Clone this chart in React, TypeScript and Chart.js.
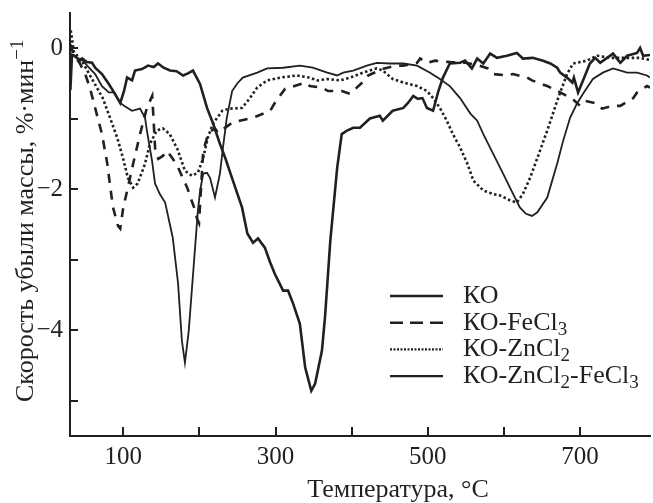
import React, { useEffect, useRef } from 'react';
import { Chart, registerables } from 'chart.js';

Chart.register(...registerables);

const INK = '#231f20';
const FONT = '"Liberation Serif", "Times New Roman", serif';

// ---- data (temperature °C, rate %/min) ----
const koTemp = [30.5, 32.6, 37, 43, 46, 52, 59, 63, 72, 81, 89, 96, 101, 105, 111.5, 115.4, 124.6, 132.5, 140, 145.6, 153, 161.4, 170, 178.5, 185, 191.6, 200.8, 210, 218, 227, 234, 244, 256, 263, 270.5, 277, 286, 293, 299, 310, 316.5, 323, 332, 339, 347, 352, 361, 365, 372, 381, 387, 394, 402, 411, 424, 437, 441, 454, 468, 474, 481, 487, 493, 499, 507, 514, 520, 529, 542.5, 549, 558, 565, 573, 582, 591, 604, 617, 625, 638, 651.5, 661, 670, 674, 683, 690, 692, 697.5, 704, 713, 720, 726.5, 735.6, 743.5, 753, 762, 775, 779, 783, 792];
const koRate = [-0.6, -0.1, -0.12, -0.18, -0.15, -0.2, -0.21, -0.28, -0.37, -0.51, -0.65, -0.78, -0.61, -0.42, -0.46, -0.32, -0.3, -0.25, -0.27, -0.22, -0.28, -0.32, -0.33, -0.39, -0.36, -0.32, -0.51, -0.85, -1.07, -1.36, -1.56, -1.88, -2.26, -2.63, -2.76, -2.7, -2.83, -3.04, -3.2, -3.44, -3.44, -3.62, -3.91, -4.53, -4.86, -4.76, -4.29, -3.82, -2.73, -1.7, -1.22, -1.17, -1.13, -1.13, -1.0, -0.96, -1.03, -0.89, -0.85, -0.78, -0.68, -0.72, -0.71, -0.85, -0.89, -0.61, -0.42, -0.22, -0.21, -0.18, -0.29, -0.15, -0.22, -0.08, -0.14, -0.11, -0.07, -0.15, -0.14, -0.18, -0.22, -0.28, -0.35, -0.42, -0.49, -0.42, -0.63, -0.46, -0.22, -0.14, -0.21, -0.14, -0.08, -0.21, -0.11, -0.07, 0.0, -0.11, -0.1];

const feTemp = [31, 34, 43, 50, 56, 63, 72, 79, 83, 86.5, 93, 96, 100, 106, 113, 122, 131, 138, 139.5, 142, 146, 152, 157.5, 165, 171, 178.5, 184, 189, 193, 197, 199.5, 205, 212, 220.5, 224.5, 243, 253, 270.5, 277, 293, 299, 312.5, 319, 339, 345, 361, 369, 387, 398, 414, 421.6, 440, 457, 467.6, 486, 490, 499, 509.6, 530, 550, 565, 579, 586, 604, 612, 630.5, 637, 657, 665, 683, 690, 700, 707, 722.5, 729, 743.5, 753, 770, 775, 788, 792];
const feRate = [0.05, -0.08, -0.22, -0.37, -0.56, -0.85, -1.22, -1.64, -1.98, -2.26, -2.52, -2.56, -2.26, -1.98, -1.64, -1.22, -0.85, -0.68, -0.96, -1.46, -1.57, -1.53, -1.46, -1.57, -1.67, -1.85, -1.98, -2.14, -2.26, -2.42, -2.48, -1.46, -1.2, -1.14, -1.2, -1.06, -1.03, -0.99, -0.96, -0.89, -0.78, -0.58, -0.56, -0.49, -0.54, -0.56, -0.61, -0.61, -0.65, -0.49, -0.39, -0.3, -0.25, -0.25, -0.21, -0.15, -0.21, -0.18, -0.2, -0.21, -0.24, -0.29, -0.37, -0.39, -0.37, -0.42, -0.46, -0.54, -0.58, -0.68, -0.72, -0.82, -0.75, -0.79, -0.86, -0.82, -0.82, -0.71, -0.63, -0.54, -0.56];

const znTemp = [31, 33, 35, 40, 47, 60, 73, 82.6, 92, 99.6, 106, 113, 119, 128.6, 135, 144, 152, 161, 171, 181, 190, 198, 205, 211, 218, 230, 240, 256, 266.5, 276, 289, 306, 328, 345, 355, 368, 385, 398, 415, 433, 441, 454, 468, 486, 499, 507, 516, 525, 533, 542.5, 552, 560, 573, 586, 595, 608, 617, 625, 634.5, 644, 657, 670, 683, 691, 709, 722.5, 740, 762, 779, 792];
const znRate = [0.25, 0.1, -0.05, -0.12, -0.21, -0.46, -0.71, -0.99, -1.27, -1.56, -1.84, -1.98, -1.92, -1.64, -1.36, -1.17, -1.14, -1.22, -1.43, -1.74, -1.81, -1.77, -1.56, -1.27, -1.07, -0.89, -0.86, -0.85, -0.71, -0.56, -0.46, -0.42, -0.39, -0.42, -0.46, -0.44, -0.46, -0.42, -0.35, -0.29, -0.32, -0.44, -0.49, -0.54, -0.61, -0.71, -0.85, -1.03, -1.22, -1.41, -1.64, -1.88, -2.02, -2.07, -2.09, -2.16, -2.19, -2.07, -1.84, -1.56, -1.17, -0.75, -0.37, -0.22, -0.18, -0.11, -0.14, -0.14, -0.14, -0.17];

const znFeTemp = [30.5, 35, 39, 47, 55, 63, 72, 81, 88, 96, 101, 111.5, 122, 128.6, 131, 137.8, 141.7, 148, 155, 165, 172, 177, 181, 186, 192, 198, 201, 205, 210, 214, 220.5, 227, 231, 236, 243, 250, 257, 276, 289, 310, 332, 349, 368, 381, 389, 402, 420, 433, 450, 468, 486, 503, 516, 529, 542.5, 556, 565, 573, 586, 599, 608, 621, 629, 637, 644, 657, 670, 678, 687, 696, 704, 717, 730, 743.5, 762, 775, 788, 792];
const znFeRate = [-0.15, -0.1, -0.14, -0.18, -0.28, -0.37, -0.54, -0.63, -0.63, -0.78, -0.82, -0.89, -0.86, -0.99, -1.17, -1.6, -1.92, -2.07, -2.19, -2.69, -3.34, -4.15, -4.46, -4.01, -3.16, -2.31, -2.02, -1.78, -1.77, -1.84, -2.12, -1.78, -1.41, -0.99, -0.61, -0.5, -0.42, -0.35, -0.29, -0.28, -0.25, -0.28, -0.35, -0.39, -0.35, -0.32, -0.25, -0.21, -0.22, -0.22, -0.25, -0.35, -0.44, -0.54, -0.71, -0.93, -1.03, -1.22, -1.5, -1.78, -1.98, -2.26, -2.35, -2.38, -2.33, -2.12, -1.64, -1.31, -0.99, -0.79, -0.65, -0.44, -0.35, -0.29, -0.35, -0.35, -0.39, -0.42];

// ---- axes ----
const xMin = 30;
const xMax = 792;
const yMin = -5.5;
const yMax = 0.5;
const xTickValues = [100, 200, 300, 400, 500, 600, 700];
const xTickLabels = [100, 300, 500, 700];
const yTickValues = [0, -1, -2, -3, -4, -5];
const yTickLabels = [0, -2, -4];

const xTitle = 'Температура, °C';
const yTitleSegs = [{ t: 'Скорость убыли массы, %·мин' }, { t: '−1', sup: true }];

const seriesNames = [
  [{ t: 'КО' }],
  [{ t: 'КО-FeCl' }, { t: '3', sub: true }],
  [{ t: 'КО-ZnCl' }, { t: '2', sub: true }],
  [{ t: 'КО-ZnCl' }, { t: '2', sub: true }, { t: '-FeCl' }, { t: '3', sub: true }],
];

type Seg = { t: string; sub?: boolean; sup?: boolean };

function drawRich(ctx: CanvasRenderingContext2D, segs: Seg[], x: number, y: number, size: number, small: number) {
  let cx = x;
  for (const s of segs) {
    const isSmall = s.sub || s.sup;
    ctx.font = `${isSmall ? small : size}px ${FONT}`;
    const dy = s.sub ? 5 : s.sup ? -10 : 0;
    ctx.fillText(s.t, cx, y + dy);
    cx += ctx.measureText(s.t).width;
  }
}

const legendStyles = [
  { width: 2.6, dash: [] as number[] },
  { width: 2.6, dash: [13, 7] },
  { width: 2.2, dash: [2, 1.5] },
  { width: 2.2, dash: [] as number[] },
];

const decorPlugin = {
  id: 'decor',
  afterDraw(chart: any) {
    const { ctx, chartArea } = chart;
    const xs = chart.scales.x;
    const ys = chart.scales.y;
    ctx.save();
    ctx.strokeStyle = INK;
    ctx.fillStyle = INK;
    ctx.lineWidth = 2;
    ctx.setLineDash([]);
    for (const v of xTickValues) {
      const p = Math.round(xs.getPixelForValue(v));
      ctx.beginPath();
      ctx.moveTo(p, chartArea.bottom);
      ctx.lineTo(p, chartArea.bottom - 9);
      ctx.stroke();
    }
    for (const v of yTickValues) {
      const p = Math.round(ys.getPixelForValue(v));
      ctx.beginPath();
      ctx.moveTo(chartArea.left, p);
      ctx.lineTo(chartArea.left + 8, p);
      ctx.stroke();
    }
    // legend
    ctx.textAlign = 'left';
    ctx.textBaseline = 'alphabetic';
    seriesNames.forEach((segs, i) => {
      const base = 303 + i * 26.7;
      const ly = base - 7;
      const st = legendStyles[i];
      ctx.lineWidth = st.width;
      ctx.setLineDash(st.dash);
      ctx.beginPath();
      ctx.moveTo(390, ly);
      ctx.lineTo(443, ly);
      ctx.stroke();
      ctx.setLineDash([]);
      drawRich(ctx, segs as Seg[], 463, base, 26, 19);
    });
    // x title
    ctx.font = `26px ${FONT}`;
    ctx.textAlign = 'center';
    ctx.fillText(xTitle, 398, 497);
    // y title
    ctx.translate(33, 402);
    ctx.rotate(-Math.PI / 2);
    ctx.textAlign = 'left';
    drawRich(ctx, yTitleSegs as Seg[], 0, 0, 26, 19);
    ctx.restore();
  },
};

function pts(xs: number[], ys: number[]) {
  return xs.map((x, i) => ({ x, y: ys[i] }));
}

export default function App() {
  const ref = useRef<HTMLCanvasElement | null>(null);
  useEffect(() => {
    document.body.style.margin = '0';
    const canvas = ref.current!;
    const chart = new Chart(canvas, {
      type: 'line',
      data: {
        datasets: [
          { label: 'КО', data: pts(koTemp, koRate), borderColor: INK, borderWidth: 2.6, pointRadius: 0, tension: 0, fill: false },
          { label: 'КО-FeCl3', data: pts(feTemp, feRate), borderColor: INK, borderWidth: 2.6, borderDash: [9, 8], pointRadius: 0, tension: 0, fill: false },
          { label: 'КО-ZnCl2', data: pts(znTemp, znRate), borderColor: INK, borderWidth: 2.6, borderDash: [2.5, 2.5], pointRadius: 0, tension: 0, fill: false },
          { label: 'КО-ZnCl2-FeCl3', data: pts(znFeTemp, znFeRate), borderColor: INK, borderWidth: 1.8, pointRadius: 0, tension: 0, fill: false },
        ],
      },
      options: {
        responsive: false,
        animation: false,
        devicePixelRatio: 1,
        parsing: false as any,
        layout: { padding: { left: 0, top: 12.7, right: 3, bottom: 0 } },
        plugins: { legend: { display: false }, tooltip: { enabled: false }, title: { display: false } },
        scales: {
          x: {
            type: 'linear',
            min: xMin,
            max: xMax,
            grid: { display: false, drawTicks: false },
            border: { display: true, width: 2, color: INK },
            ticks: {
              color: INK,
              font: { family: FONT, size: 25 },
              padding: 6,
              maxRotation: 0,
              autoSkip: false,
              callback: (v: any) => (xTickLabels.includes(Number(v)) ? String(v) : ''),
            },
            afterBuildTicks: (s: any) => {
              s.ticks = xTickValues.map((v) => ({ value: v }));
            },
            afterFit: (s: any) => {
              s.height = 67;
              s.paddingLeft = 0;
              s.paddingRight = 0;
              s.paddingTop = 0;
              s.paddingBottom = 0;
            },
          },
          y: {
            type: 'linear',
            min: yMin,
            max: yMax,
            grid: { display: false, drawTicks: false },
            border: { display: true, width: 2, color: INK },
            ticks: {
              color: INK,
              font: { family: FONT, size: 25 },
              padding: 7,
              autoSkip: false,
              callback: (v: any) => {
                const n = Number(v);
                if (!yTickLabels.includes(n)) return '';
                return n < 0 ? '−' + Math.abs(n) : String(n);
              },
            },
            afterBuildTicks: (s: any) => {
              s.ticks = yTickValues.map((v) => ({ value: v }));
            },
            afterFit: (s: any) => {
              s.width = 70;
              s.paddingLeft = 0;
              s.paddingRight = 0;
              s.paddingTop = 0;
              s.paddingBottom = 0;
            },
          },
        },
      },
      plugins: [decorPlugin],
    });
    return () => chart.destroy();
  }, []);
  return (
    <div style={{ position: 'absolute', left: 0, top: 0, width: 653, height: 503, background: '#fff' }}>
      <canvas ref={ref} width={653} height={503} style={{ display: 'block' }} />
    </div>
  );
}
